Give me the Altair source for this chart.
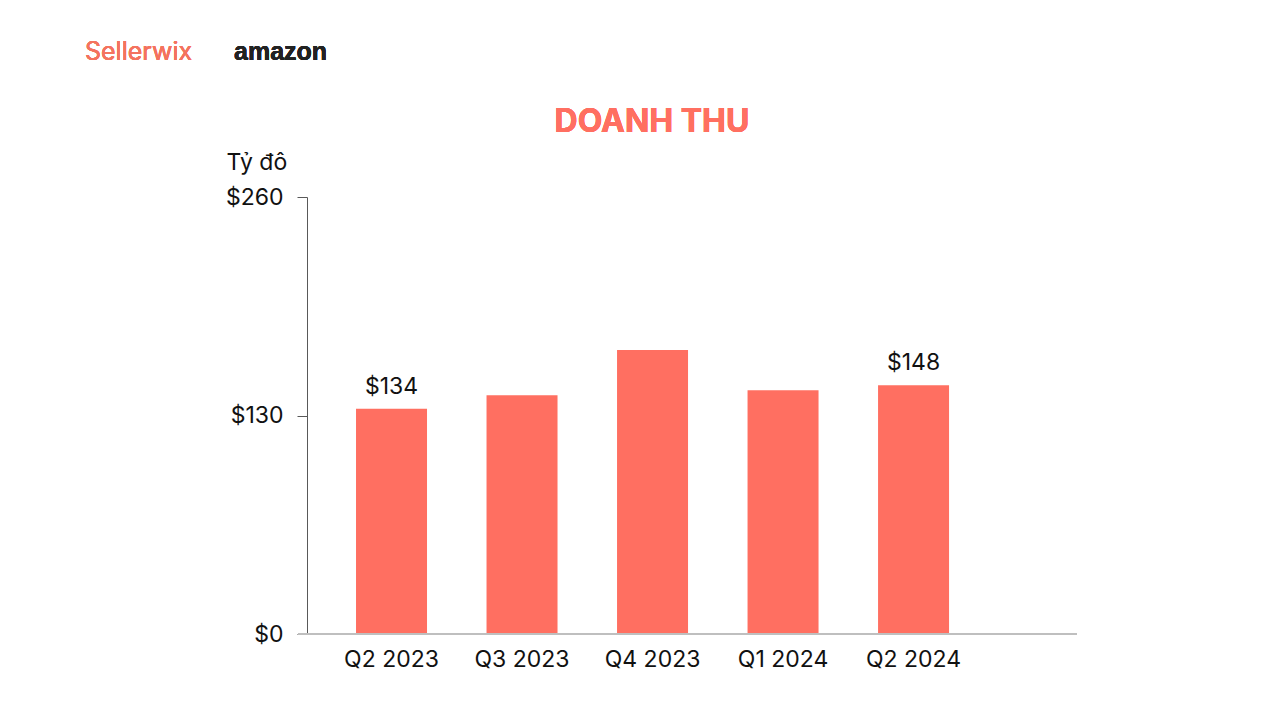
import altair as alt
import pandas as pd

quarters = ["Q2 2023", "Q3 2023", "Q4 2023", "Q1 2024", "Q2 2024"]
revenue = [134, 142, 169, 145, 148]
value_labels = ["$134", "", "", "", "$148"]
y_ticks = [0, 130, 260]

df = pd.DataFrame({"quarter": quarters, "revenue": revenue, "label": value_labels})

W, H = 770, 437
FONT = "Inter"
CORAL = "#FF6F61"
FS = 23

x_enc = alt.X(
    "quarter:N",
    sort=quarters,
    scale=alt.Scale(paddingInner=0.456, paddingOuter=0.678, align=0.277),
    axis=alt.Axis(title=None, labelAngle=0, ticks=False, domain=False,
                  labelFontSize=FS, labelColor="#111111", labelFont=FONT,
                  labelPadding=14),
)
y_enc = alt.Y(
    "revenue:Q",
    scale=alt.Scale(domain=[0, 260], nice=False),
    axis=alt.Axis(values=y_ticks, labelExpr="'$' + datum.value", grid=False,
                  domainColor="#595959", tickColor="#595959", tickSize=10,
                  labelFontSize=FS, labelColor="#111111", labelFont=FONT,
                  labelPadding=14, title="Tỷ đô", titleAngle=0,
                  titleAlign="left", titleBaseline="middle", titleX=-81,
                  titleY=-35, titleFontSize=FS, titleFont=FONT,
                  titleFontWeight="normal", titleColor="#111111"),
)

base = alt.Chart(df)
bars = base.mark_bar(color=CORAL).encode(x=x_enc, y=y_enc)
labels = base.mark_text(baseline="bottom", dy=-10, fontSize=FS, font=FONT,
                        color="#111111").encode(
    x=alt.X("quarter:N", sort=quarters), y="revenue:Q", text="label:N")

xline = base.mark_rule(color="#BFBFBF", strokeWidth=1.5).encode(
    x=alt.value(-9), x2=alt.value(W), y=alt.value(H))

title = base.mark_text(text="DOANH THU", fontSize=32, fontWeight="bold",
                       font=FONT, color=CORAL, align="center",
                       baseline="middle").encode(
    x=alt.value(345), y=alt.value(-75))

brand1 = base.mark_text(text="Sellerwix", fontSize=25, font=FONT,
                        color="#F4735E", align="left",
                        baseline="middle").encode(
    x=alt.value(85 - 307), y=alt.value(52 - 197))

brand2 = base.mark_text(text="amazon", fontSize=25, fontWeight="bold",
                        font="Liberation Sans", color="#222222",
                        align="left", baseline="middle").encode(
    x=alt.value(234 - 307), y=alt.value(52 - 197))

chart = alt.layer(bars, labels, xline, title, brand1, brand2).properties(
    width=W, height=H,
    autosize=alt.AutoSizeParams(type="none"),
    padding={"left": 307, "top": 197, "right": 203, "bottom": 86},
    background="white",
).configure_view(stroke=None)

chart.save("out.html", embed_options={"renderer": "svg", "actions": False})
